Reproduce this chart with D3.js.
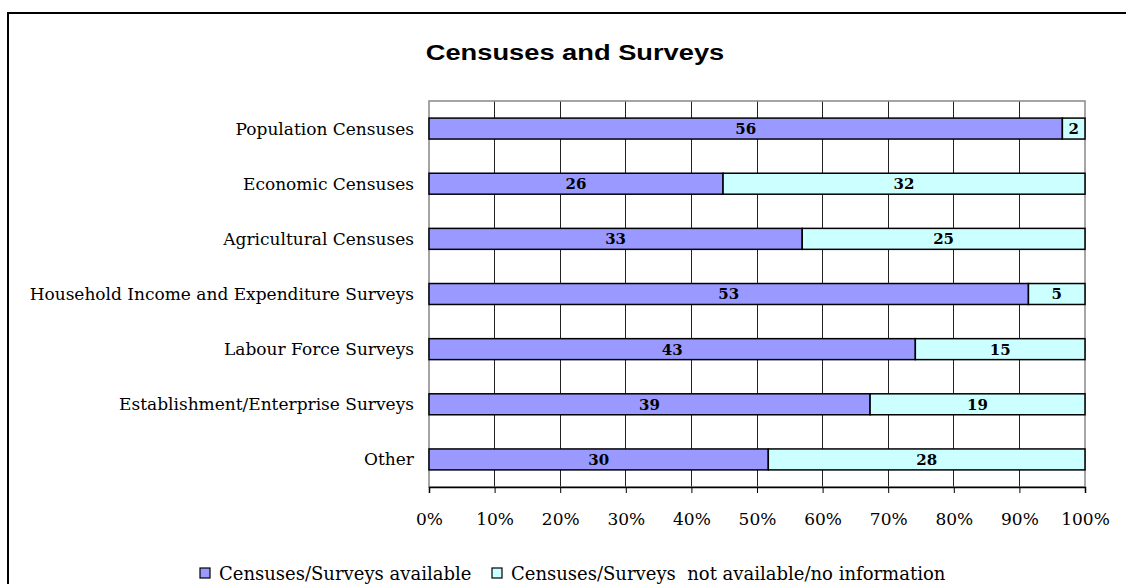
<!DOCTYPE html>
<html>
<head>
<meta charset="utf-8">
<script src="https://cdn.jsdelivr.net/npm/d3@7"></script>
<style>
  body { margin: 0; background: #fff; }
  text { font-family: "DejaVu Serif", serif; }
</style>
</head>
<body>
<div id="vis"></div>
<script>
const categories = ["Population Censuses", "Economic Censuses", "Agricultural Censuses",
    "Household Income and Expenditure Surveys", "Labour Force Surveys",
    "Establishment/Enterprise Surveys", "Other"];
const available = [56, 26, 33, 53, 43, 39, 30];
const notAvailable = [2, 32, 25, 5, 15, 19, 28];
const seriesNames = ["Censuses/Surveys available", "Censuses/Surveys  not available/no information"];
const colors = ["#9999ff", "#ccffff"];
const ticks = [0, 0.1, 0.2, 0.3, 0.4, 0.5, 0.6, 0.7, 0.8, 0.9, 1];

var W = 1126, H = 584;
var margin = { top: 101, left: 429, right: 41, bottom: 97 },
    width = W - margin.left - margin.right,
    height = H - margin.top - margin.bottom;

var root = d3.select("#vis").append("svg")
    .attr("width", W).attr("height", H);

// outer frame
root.append("rect")
    .attr("x", 8).attr("y", 13)
    .attr("width", W + 20).attr("height", H + 20)
    .attr("fill", "none").attr("stroke", "#000").attr("stroke-width", 2);

// title is wide in the original, stretch it horizontally
root.append("text")
    .attr("transform", "translate(575,60) scale(1.24,1)")
    .attr("text-anchor", "middle")
    .style("font-family", "Arial, 'Liberation Sans', sans-serif")
    .style("font-weight", "bold").style("font-size", "22px")
    .text("Censuses and Surveys");

var svg = root.append("g")
    .attr("transform", "translate(" + margin.left + "," + margin.top + ")");

var x = d3.scaleLinear().domain([0, 1]).range([0, width]);
var y = d3.scaleBand().domain(categories).range([0, height]).paddingInner(0.62).paddingOuter(0.31);

// grid
svg.selectAll(".grid").data(ticks.slice(1, -1)).enter().append("line")
    .attr("x1", d => x(d)).attr("x2", d => x(d))
    .attr("y1", 0).attr("y2", height)
    .attr("stroke", "#222").attr("stroke-width", 1).attr("shape-rendering", "crispEdges");

svg.append("rect")
    .attr("width", width).attr("height", height)
    .attr("fill", "none").attr("stroke", "#888").attr("stroke-width", 1.5);

// x axis
var xAxis = svg.append("g")
    .attr("transform", "translate(0," + height + ")")
    .call(d3.axisBottom(x).tickValues(ticks).tickFormat(d3.format(".0%")).tickSize(6).tickPadding(20));
xAxis.select(".domain").attr("stroke", "#000").attr("stroke-width", 1.5);
xAxis.selectAll("line").attr("stroke", "#000");
xAxis.selectAll("text").style("font-size", "17px").style("font-family", "'DejaVu Serif', serif").attr("fill", "#000");

// y labels
svg.selectAll(".cat").data(categories).enter().append("text")
    .attr("x", -15)
    .attr("y", d => y(d) + y.bandwidth() / 2)
    .attr("dy", "0.35em")
    .attr("text-anchor", "end")
    .style("font-size", "17px")
    .text(d => d);

// stacked bars
var rows = categories.map((c, i) => {
    var t = available[i] + notAvailable[i];
    return { cat: c, vals: [available[i], notAvailable[i]], total: t };
});

rows.forEach(r => {
    var x0 = 0;
    r.vals.forEach((v, j) => {
        var a = x0 / r.total, b = (x0 + v) / r.total;
        svg.append("rect")
            .attr("x", x(a)).attr("y", y(r.cat))
            .attr("width", x(b) - x(a)).attr("height", y.bandwidth())
            .attr("fill", colors[j]).attr("stroke", "#000").attr("stroke-width", 1.5);
        svg.append("text")
            .attr("x", (x(a) + x(b)) / 2)
            .attr("y", y(r.cat) + y.bandwidth() / 2)
            .attr("dy", "0.36em")
            .attr("text-anchor", "middle")
            .style("font-weight", "bold").style("font-size", "15px")
            .text(v);
        x0 += v;
    });
});

// legend
var legX = [200, 492];
seriesNames.forEach((n, i) => {
    var g = root.append("g").attr("transform", "translate(" + legX[i] + ",574)");
    g.append("rect").attr("x", 0).attr("y", -6).attr("width", 10).attr("height", 10)
        .attr("fill", colors[i]).attr("stroke", "#000").attr("stroke-width", 1.2);
    g.append("text").attr("x", 19).attr("y", 0).attr("dy", "0.35em")
        .style("font-size", "18px").style("white-space", "pre").text(n);
});
</script>
</body>
</html>
